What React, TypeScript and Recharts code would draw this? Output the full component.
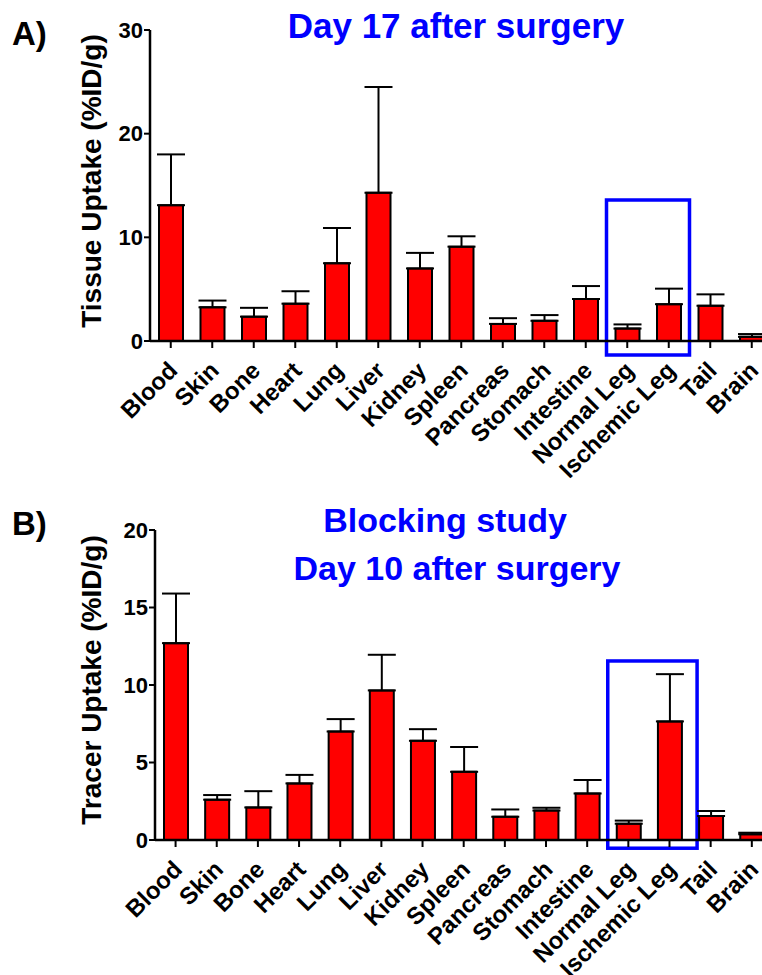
import { BarChart, Bar, XAxis, YAxis, ErrorBar, ReferenceArea } from 'recharts'

const organs = [
  'Blood',
  'Skin',
  'Bone',
  'Heart',
  'Lung',
  'Liver',
  'Kidney',
  'Spleen',
  'Pancreas',
  'Stomach',
  'Intestine',
  'Normal Leg',
  'Ischemic Leg',
  'Tail',
  'Brain',
]

// panel A: day 17 after surgery, mean and upper SD
const day17Mean = [13.1, 3.25, 2.35, 3.6, 7.5, 14.3, 7.0, 9.1, 1.65, 1.95, 4.05, 1.2, 3.55, 3.4, 0.4]
const day17Sd = [4.9, 0.65, 0.85, 1.2, 3.4, 10.2, 1.5, 1.0, 0.55, 0.55, 1.25, 0.4, 1.5, 1.1, 0.27]

// panel B: blocking study, day 10 after surgery
const blockMean = [12.7, 2.6, 2.1, 3.65, 7.0, 9.65, 6.4, 4.4, 1.5, 1.9, 3.0, 1.05, 7.65, 1.55, 0.37]
const blockSd = [3.2, 0.3, 1.05, 0.55, 0.8, 2.3, 0.75, 1.6, 0.47, 0.18, 0.87, 0.2, 3.05, 0.32, 0.1]

const ticksA = [0, 10, 20, 30]
const ticksB = [0, 5, 10, 15, 20]

const FONT = '"Liberation Sans", Arial, Helvetica, sans-serif'

const dataA = organs.map((organ, i) => ({ organ, mean: day17Mean[i], err: [0, day17Sd[i]] }))
const dataB = organs.map((organ, i) => ({ organ, mean: blockMean[i], err: [0, blockSd[i]] }))

function OrganTick({ x, y, payload }: any) {
  return (
    <g transform={`translate(${x + 8},${y + 24})`}>
      <text
        textAnchor="end"
        transform="rotate(-45)"
        fontFamily={FONT}
        fontWeight="bold"
        fontSize={24}
        fill="#000"
      >
        {payload.value}
      </text>
    </g>
  )
}

const axisLine = { stroke: '#000', strokeWidth: 2.5 }
const tickLine = { stroke: '#000', strokeWidth: 2 }
const yTick = { fill: '#000', fontSize: 22, fontWeight: 'bold', fontFamily: FONT }

function WideBox(props: any) {
  return (
    <rect
      x={props.x}
      y={props.y}
      width={props.width + 7}
      height={props.height}
      fill="none"
      stroke="#0000FF"
      strokeWidth={3.5}
    />
  )
}

export default function App() {
  return (
    <div
      style={{
        position: 'absolute',
        left: 0,
        top: 0,
        width: 762,
        height: 975,
        overflow: 'hidden',
        background: '#fff',
      }}
    >
      <div style={{ position: 'absolute', left: 0, top: 0 }}>
        <BarChart
          width={800}
          height={492}
          data={dataA}
          margin={{ top: 30, right: 27.5, bottom: 0, left: 0 }}
        >
          <XAxis
            dataKey="organ"
            interval={0}
            height={151}
            tickSize={7}
            tickMargin={0}
            axisLine={axisLine}
            tickLine={tickLine}
            tick={<OrganTick />}
          />
          <YAxis
            width={150}
            domain={[0, 30]}
            ticks={ticksA}
            tickSize={6}
            tickMargin={1}
            axisLine={axisLine}
            tickLine={tickLine}
            tick={yTick}
          />
          <ReferenceArea
            x1="Normal Leg"
            x2="Ischemic Leg"
            y1={-1.35}
            y2={13.6}
            ifOverflow="visible"
            fill="none"
            fillOpacity={0}
            stroke="#0000FF"
            strokeWidth={3.5}
          />
          <Bar dataKey="mean" barSize={24} fill="#FF0000" stroke="#000" strokeWidth={2} isAnimationActive={false}>
            <ErrorBar dataKey="err" direction="y" width={14} stroke="#000" strokeWidth={2} />
          </Bar>
        </BarChart>
      </div>

      <div style={{ position: 'absolute', left: 0, top: 490 }}>
        <BarChart
          width={800}
          height={485}
          data={dataB}
          margin={{ top: 40, right: 27.6, bottom: 0, left: 0 }}
        >
          <XAxis
            dataKey="organ"
            interval={0}
            height={135}
            tickSize={7}
            tickMargin={0}
            axisLine={axisLine}
            tickLine={tickLine}
            tick={<OrganTick />}
          />
          <YAxis
            width={155}
            domain={[0, 20]}
            ticks={ticksB}
            tickSize={6}
            tickMargin={1}
            axisLine={axisLine}
            tickLine={tickLine}
            tick={yTick}
          />
          <ReferenceArea
            x1="Normal Leg"
            x2="Ischemic Leg"
            y1={-0.53}
            y2={11.55}
            ifOverflow="visible"
            shape={<WideBox />}
          />
          <Bar dataKey="mean" barSize={24} fill="#FF0000" stroke="#000" strokeWidth={2} isAnimationActive={false}>
            <ErrorBar dataKey="err" direction="y" width={14} stroke="#000" strokeWidth={2} />
          </Bar>
        </BarChart>
      </div>

      <svg
        width={762}
        height={975}
        style={{ position: 'absolute', left: 0, top: 0, pointerEvents: 'none' }}
        fontFamily={FONT}
        fontWeight="bold"
      >
        <text x={12} y={45} fontSize={33} fill="#000">A)</text>
        <text x={456} y={38} fontSize={35} fill="#0000FF" textAnchor="middle">Day 17 after surgery</text>
        <text
          x={101}
          y={181}
          fontSize={28}
          fill="#000"
          textAnchor="middle"
          transform="rotate(-90, 101, 181)"
        >
          Tissue Uptake (%ID/g)
        </text>

        <text x={12} y={535} fontSize={33} fill="#000">B)</text>
        <text x={445} y={532} fontSize={34} fill="#0000FF" textAnchor="middle">Blocking study</text>
        <text x={457} y={580} fontSize={34} fill="#0000FF" textAnchor="middle">Day 10 after surgery</text>
        <text
          x={101}
          y={680}
          fontSize={28}
          fill="#000"
          textAnchor="middle"
          transform="rotate(-90, 101, 680)"
        >
          Tracer Uptake (%ID/g)
        </text>
      </svg>
    </div>
  )
}
